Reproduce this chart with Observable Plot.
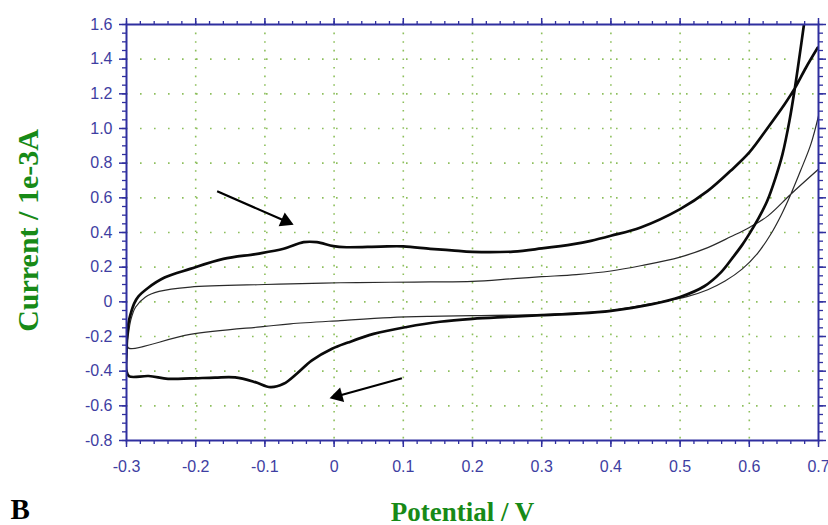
<!DOCTYPE html>
<html>
<head>
<meta charset="utf-8">
<script src="https://cdn.jsdelivr.net/npm/d3@7"></script>
<script src="https://cdn.jsdelivr.net/npm/@observablehq/plot@0.6"></script>
<style>
  html, body { margin: 0; padding: 0; background: white; }
  #chart { width: 828px; height: 525px; }
</style>
</head>
<body>
<div id="chart"></div>
<script>
// ---- Data ----
// Thick voltammogram (reverse branch from top-right, then forward branch)
const thickX = [0.679, 0.673, 0.666, 0.658, 0.648, 0.638, 0.626, 0.614, 0.602, 0.590, 0.576, 0.559, 0.535, 0.500, 0.458, 0.400, 0.350, 0.300, 0.250, 0.200, 0.153, 0.105, 0.057, 0.020, -0.003, -0.032, -0.054, -0.073, -0.092, -0.114, -0.143, -0.172, -0.208, -0.240, -0.268, -0.296, -0.300, -0.300, -0.299, -0.297, -0.294, -0.289, -0.283, -0.269, -0.245, -0.208, -0.160, -0.111, -0.073, -0.044, -0.025, -0.001, 0.018, 0.067, 0.100, 0.139, 0.170, 0.200, 0.259, 0.300, 0.346, 0.371, 0.400, 0.443, 0.500, 0.540, 0.573, 0.600, 0.627, 0.651, 0.665, 0.682, 0.699];
const thickY = [1.600, 1.429, 1.237, 1.044, 0.852, 0.717, 0.583, 0.487, 0.405, 0.330, 0.255, 0.170, 0.090, 0.028, -0.015, -0.052, -0.068, -0.077, -0.087, -0.098, -0.115, -0.145, -0.185, -0.235, -0.271, -0.338, -0.415, -0.473, -0.492, -0.463, -0.436, -0.437, -0.442, -0.444, -0.428, -0.430, -0.400, -0.300, -0.200, -0.120, -0.070, -0.010, 0.030, 0.080, 0.140, 0.190, 0.248, 0.277, 0.306, 0.344, 0.344, 0.321, 0.315, 0.319, 0.320, 0.306, 0.297, 0.288, 0.290, 0.308, 0.333, 0.352, 0.381, 0.429, 0.535, 0.640, 0.756, 0.862, 1.006, 1.140, 1.227, 1.352, 1.467];
// Thin background voltammogram
const thinX = [0.700, 0.689, 0.674, 0.660, 0.646, 0.631, 0.612, 0.590, 0.565, 0.540, 0.510, 0.467, 0.400, 0.350, 0.300, 0.200, 0.139, 0.081, 0.009, -0.063, -0.100, -0.208, -0.297, -0.299, -0.297, -0.294, -0.287, -0.273, -0.253, -0.208, -0.100, -0.063, 0.009, 0.081, 0.139, 0.200, 0.259, 0.300, 0.350, 0.400, 0.443, 0.500, 0.540, 0.573, 0.600, 0.627, 0.660, 0.700];
const thinY = [1.073, 0.910, 0.756, 0.621, 0.500, 0.390, 0.280, 0.190, 0.120, 0.070, 0.030, -0.004, -0.050, -0.064, -0.073, -0.080, -0.084, -0.091, -0.108, -0.127, -0.142, -0.188, -0.267, -0.240, -0.180, -0.108, -0.031, 0.027, 0.060, 0.085, 0.100, 0.104, 0.110, 0.113, 0.115, 0.118, 0.134, 0.145, 0.157, 0.178, 0.208, 0.258, 0.313, 0.375, 0.429, 0.496, 0.621, 0.765];
// Annotation arrows (start -> tip)
const arrowX1 = [-0.169, 0.098];
const arrowY1 = [0.638, -0.441];
const arrowX2 = [-0.059, -0.006];
const arrowY2 = [0.446, -0.556];

// Axes
const xMajor = [-0.3, -0.2, -0.1, 0, 0.1, 0.2, 0.3, 0.4, 0.5, 0.6, 0.7];
const xLabels = ["-0.3", "-0.2", "-0.1", "0", "0.1", "0.2", "0.3", "0.4", "0.5", "0.6", "0.7"];
const yMajor = [-0.8, -0.6, -0.4, -0.2, 0, 0.2, 0.4, 0.6, 0.8, 1.0, 1.2, 1.4, 1.6];
const yLabels = ["-0.8", "-0.6", "-0.4", "-0.2", "0", "0.2", "0.4", "0.6", "0.8", "1.0", "1.2", "1.4", "1.6"];
const xMinor = d3.range(-15, 36).map(i => +(i * 0.02).toFixed(2));
const yMinor = d3.range(-16, 33).map(i => +(i * 0.05).toFixed(2));

const xTitle = "Potential / V";
const yTitle = "Current / 1e-3A";
const panelLabel = "B";

// ---- Layout ----
const W = 828, H = 525;
const mL = 126, mR = 10, mT = 24, mB = 85;
const kx = (W - mL - mR) / 1.0;   // px per unit x
const ky = (H - mT - mB) / 2.4;   // px per unit y

const axisBlue = "#2f2f9f";
const labelBlue = "#3e3ea2";
const gridGreen = "#8dbf5c";
const titleGreen = "#178a17";

const thick = thickX.map((x, i) => ({x, y: thickY[i]}));
const thin = thinX.map((x, i) => ({x, y: thinY[i]}));

// arrow geometry (shaft + filled triangular head)
const headR = 5.6;
const shafts = [], heads = [];
arrowX1.forEach((x1, i) => {
  const y1 = arrowY1[i], x2 = arrowX2[i], y2 = arrowY2[i];
  const dxp = (x2 - x1) * kx, dyp = -(y2 - y1) * ky;
  const len = Math.hypot(dxp, dyp);
  const ux = dxp / len, uy = dyp / len;
  const back = 10, cen = 8.3;
  shafts.push({x1, y1, x2: x2 - ux * back / kx, y2: y2 + uy * back / ky});
  heads.push({x: x2 - ux * cen / kx, y: y2 + uy * cen / ky, rot: Math.atan2(dyp, dxp) * 180 / Math.PI + 90});
});

const fmt = (ticks, labels) => d => {
  const j = ticks.findIndex(v => Math.abs(v - d) < 1e-9);
  return j >= 0 ? labels[j] : "";
};

const chart = Plot.plot({
  width: W,
  height: H,
  marginLeft: mL,
  marginRight: mR,
  marginTop: mT,
  marginBottom: mB,
  x: {domain: [-0.3, 0.7]},
  y: {domain: [-0.8, 1.6]},
  style: {fontFamily: "'Liberation Sans', Arial, sans-serif", fontSize: "16px", background: "white", overflow: "visible"},
  marks: [
    Plot.gridX(xMajor.slice(1, -1), {stroke: gridGreen, strokeOpacity: 1, strokeWidth: 1.6, strokeDasharray: "1.6,7"}),
    Plot.gridY(yMajor.slice(1, -1), {stroke: gridGreen, strokeOpacity: 1, strokeWidth: 1.6, strokeDasharray: "1.6,12.4"}),
    Plot.line(thin, {x: "x", y: "y", stroke: "#2a2a2a", strokeWidth: 1.2, curve: "catmull-rom", clip: true}),
    Plot.line(thick, {x: "x", y: "y", stroke: "#0a0a0a", strokeWidth: 2.7, curve: "catmull-rom", clip: true}),
    Plot.link(shafts, {x1: "x1", y1: "y1", x2: "x2", y2: "y2", stroke: "black", strokeWidth: 2.2}),
    Plot.dot(heads, {x: "x", y: "y", symbol: "triangle", r: headR, fill: "black", stroke: "none", rotate: "rot"}),
    // minor ticks
    Plot.axisX(xMinor, {anchor: "bottom", tickSize: 4, fill: "none", stroke: axisBlue, strokeWidth: 1.3, label: null}),
    Plot.axisX(xMinor, {anchor: "top", tickSize: 4, fill: "none", stroke: axisBlue, strokeWidth: 1.3, label: null}),
    Plot.axisY(yMinor, {anchor: "left", tickSize: 4, fill: "none", stroke: axisBlue, strokeWidth: 1.3, label: null}),
    Plot.axisY(yMinor, {anchor: "right", tickSize: 4, fill: "none", stroke: axisBlue, strokeWidth: 1.3, label: null}),
    // major ticks + labels
    Plot.axisX(xMajor, {anchor: "bottom", tickSize: 7, tickPadding: 13, stroke: axisBlue, fill: labelBlue, strokeWidth: 1.5, tickFormat: fmt(xMajor, xLabels), label: null}),
    Plot.axisX(xMajor, {anchor: "top", tickSize: 7, fill: "none", stroke: axisBlue, strokeWidth: 1.5, label: null}),
    Plot.axisY(yMajor, {anchor: "left", tickSize: 7, tickPadding: 7, stroke: axisBlue, fill: labelBlue, strokeWidth: 1.5, tickFormat: fmt(yMajor, yLabels), label: null}),
    Plot.axisY(yMajor, {anchor: "right", tickSize: 7, fill: "none", stroke: axisBlue, strokeWidth: 1.5, label: null}),
    Plot.frame({stroke: axisBlue, strokeWidth: 2}),
    // titles
    Plot.text([xTitle], {frameAnchor: "bottom", text: d => d, dx: -10, dy: 80, lineAnchor: "bottom", fontFamily: "'Liberation Serif', 'Times New Roman', serif", fontWeight: "bold", fontSize: 27, fill: titleGreen}),
    Plot.text([yTitle], {frameAnchor: "left", text: d => d, rotate: -90, dx: -89, dy: -2, textAnchor: "middle", lineAnchor: "bottom", fontFamily: "'Liberation Serif', 'Times New Roman', serif", fontWeight: "bold", fontSize: 30, fill: titleGreen}),
    Plot.text([panelLabel], {frameAnchor: "bottom-left", text: d => d, dx: -116, dy: 78, textAnchor: "start", lineAnchor: "bottom", fontFamily: "'Liberation Serif', 'Times New Roman', serif", fontWeight: "bold", fontSize: 29, fill: "black"})
  ]
});
document.getElementById("chart").appendChild(chart);
</script>
</body>
</html>
